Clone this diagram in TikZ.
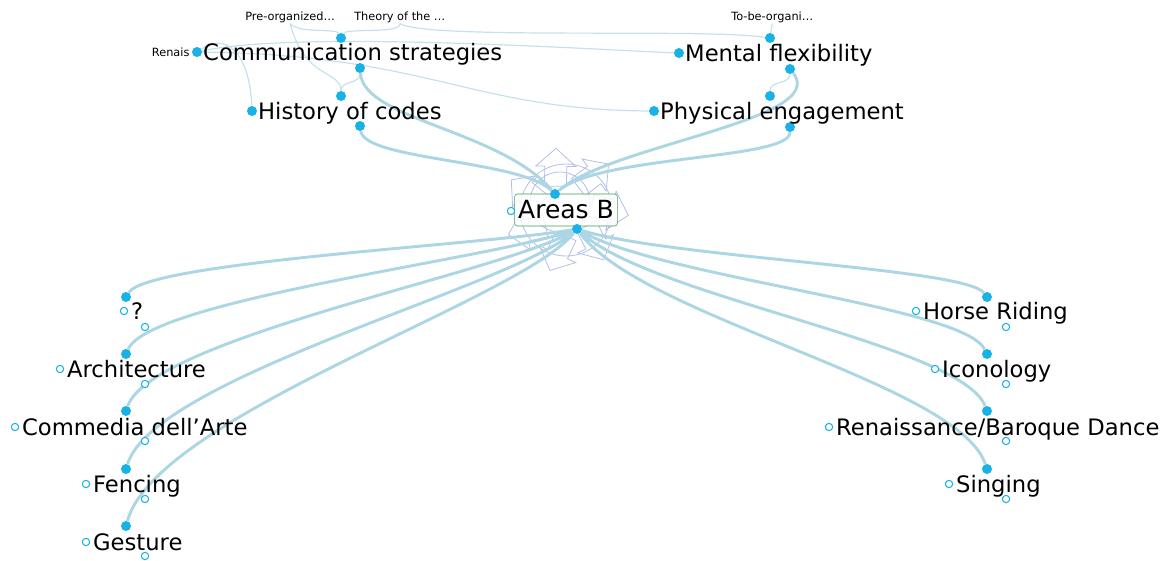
\documentclass[tikz,border=0pt]{standalone}
\usepackage{fontspec}
\setmainfont{DejaVu Sans}
\usetikzlibrary{positioning,backgrounds}
\definecolor{gateblue}{RGB}{25,178,230}
\definecolor{linkblue}{RGB}{172,214,228}
\definecolor{ghostblue}{RGB}{180,190,232}
\definecolor{boxgreen}{RGB}{60,160,80}
\begin{document}
\begin{tikzpicture}[x=0.75pt,y=-0.75pt,
  topic/.style={inner sep=0pt,text height=13.5pt,text depth=0.7pt,font=\fontsize{17}{20}\selectfont},
  tag/.style={inner sep=0pt,font=\fontsize{8.5}{10}\selectfont},
  gate/.style={circle,fill=gateblue,inner sep=0pt,minimum size=7.5pt},
  open gate/.style={circle,draw=gateblue,fill=white,line width=0.8pt,inner sep=0pt,minimum size=5.5pt},
  link/.style={draw=linkblue,line width=2.2pt},
  faint link/.style={draw=linkblue!70,line width=0.9pt},
  ghost/.style={draw=ghostblue,line width=0.6pt}]
  \useasboundingbox (0,0) rectangle (1166,560);

  % thoughts above
  \node[gate] (comm-left) at (197,52) {};
  \node[gate] (comm-top) at (341,38) {};
  \node[gate] (comm-bot) at (360,68) {};
  \node[topic,right=0.5pt of comm-left] (comm) {Communication strategies};
  \node[tag,left=1.5pt of comm-left] (renais) {Renais};
  \node[gate] (hist-left) at (252,111) {};
  \node[gate] (hist-top) at (341,96) {};
  \node[gate] (hist-bot) at (360,126) {};
  \node[topic,right=0.5pt of hist-left] (hist) {History of codes};
  \node[gate] (ment-left) at (679,53) {};
  \node[gate] (ment-top) at (770,38) {};
  \node[gate] (ment-bot) at (790,69) {};
  \node[topic,right=0.5pt of ment-left] (ment) {Mental flexibility};
  \node[gate] (phys-left) at (654,111) {};
  \node[gate] (phys-top) at (770,96) {};
  \node[gate] (phys-bot) at (790,127) {};
  \node[topic,right=0.5pt of phys-left] (phys) {Physical engagement};
  \node[tag,anchor=base west] (pre) at (245,21) {Pre-organized…};
  \node[tag,anchor=base west] (theory) at (354,21) {Theory of the …};
  \node[tag,anchor=base west] (tobe) at (731,21) {To-be-organi…};

  % central thought
  \node[draw=boxgreen,rounded corners=2pt,fill=white,fill opacity=0.8,text opacity=1,
    inner sep=0pt,minimum width=77pt,minimum height=24pt,
    font=\fontsize{18.75}{22}\selectfont] (areas) at (566,210) {Areas B};
  \node[gate] (areas-top) at (555,194) {};
  \node[gate] (areas-bot) at (577,229) {};
  \node[open gate] (areas-jump) at (511,211) {};

  % children, left column
  \node[gate] (q-top) at (126,297) {};
  \node[open gate] (q-jump) at (124,311) {};
  \node[open gate] (q-bot) at (145,327) {};
  \node[topic,right=2pt of q-jump] (q) {?};
  \node[gate] (arch-top) at (126,354) {};
  \node[open gate] (arch-jump) at (60,369) {};
  \node[open gate] (arch-bot) at (145,384) {};
  \node[topic,right=2pt of arch-jump] (arch) {Architecture};
  \node[gate] (arte-top) at (126,411) {};
  \node[open gate] (arte-jump) at (15,427) {};
  \node[open gate] (arte-bot) at (145,441) {};
  \node[topic,right=2pt of arte-jump] (arte) {Commedia dell'Arte};
  \node[gate] (fenc-top) at (126,469) {};
  \node[open gate] (fenc-jump) at (86,484) {};
  \node[open gate] (fenc-bot) at (145,499) {};
  \node[topic,right=2pt of fenc-jump] (fenc) {Fencing};
  \node[gate] (gest-top) at (126,526) {};
  \node[open gate] (gest-jump) at (86,542) {};
  \node[open gate] (gest-bot) at (145,556) {};
  \node[topic,right=2pt of gest-jump] (gest) {Gesture};

  % children, right column
  \node[gate] (horse-top) at (987,297) {};
  \node[open gate] (horse-jump) at (916,311) {};
  \node[open gate] (horse-bot) at (1006,327) {};
  \node[topic,right=2pt of horse-jump] (horse) {Horse Riding};
  \node[gate] (icon-top) at (987,354) {};
  \node[open gate] (icon-jump) at (935,369) {};
  \node[open gate] (icon-bot) at (1006,384) {};
  \node[topic,right=2pt of icon-jump] (icon) {Iconology};
  \node[gate] (dance-top) at (987,411) {};
  \node[open gate] (dance-jump) at (829,427) {};
  \node[open gate] (dance-bot) at (1006,441) {};
  \node[topic,right=2pt of dance-jump] (dance) {Renaissance/Baroque Dance};
  \node[gate] (sing-top) at (987,469) {};
  \node[open gate] (sing-jump) at (949,484) {};
  \node[open gate] (sing-bot) at (1006,499) {};
  \node[topic,right=2pt of sing-jump] (sing) {Singing};

  \begin{scope}[on background layer]
    % ghost arrows of the animation
    \draw[ghost] (566,210) circle [radius=46];
    \draw[ghost] (560,202) circle [radius=30];
    \foreach \a in {10,62,...,322}
      \draw[ghost,shift={(566,210)},rotate=\a,shift={(26,0)},rotate=-25]
        (0,-11) -- (20,-11) -- (20,-20) -- (38,0) -- (20,20) -- (20,11) -- (0,11) -- cycle;

    % thin links up top
    \path[faint link]
      (pre.south) .. controls (300,34) and (336,28) .. (comm-top)
      (theory.south) .. controls (402,34) and (346,28) .. (comm-top)
      (pre.south) .. controls (305,80) and (341,70) .. (hist-top)
      (theory.south) .. controls (430,40) and (700,28) .. (ment-top)
      (tobe.south) -- (ment-top)
      (comm-bot) .. controls (360,85) and (341,80) .. (hist-top)
      (ment-bot) .. controls (790,85) and (770,80) .. (phys-top)
      (comm-left) .. controls (230,30) and (250,60) .. (hist-left)
      (comm-left) .. controls (300,30) and (600,50) .. (ment-left)
      (comm-left) .. controls (430,55) and (470,110) .. (phys-left);

    % parents into Areas B
    \path[link]
      (hist-bot) .. controls (365,160) and (520,160) .. (areas-top)
      (comm-bot) .. controls (364,120) and (500,130) .. (areas-top)
      (phys-bot) .. controls (790,160) and (600,155) .. (areas-top)
      (ment-bot) .. controls (830,120) and (610,145) .. (areas-top);

    % Areas B to its children
    \path[link]
      (areas-bot) .. controls (482,245) and (148,262) .. (q-top)
      (areas-bot) .. controls (491,259) and (150,300) .. (arch-top)
      (areas-bot) .. controls (501,273) and (152,338) .. (arte-top)
      (areas-bot) .. controls (511,287) and (155,377) .. (fenc-top)
      (areas-bot) .. controls (520,300) and (157,415) .. (gest-top)
      (areas-bot) .. controls (672,258) and (965,268) .. (horse-top)
      (areas-bot) .. controls (663,278) and (963,306) .. (icon-top)
      (areas-bot) .. controls (653,298) and (961,344) .. (dance-top)
      (areas-bot) .. controls (643,318) and (958,383) .. (sing-top);
  \end{scope}
\end{tikzpicture}
\end{document}
